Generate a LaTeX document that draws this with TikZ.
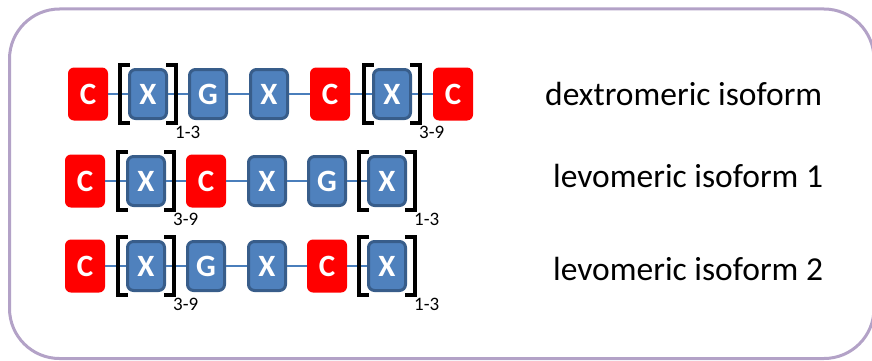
\documentclass[tikz,border=0pt]{standalone}
\usepackage{fontspec}
\setmainfont{Carlito}
\usetikzlibrary{calc}
\definecolor{framelilac}{HTML}{B3A2C7}
\definecolor{unitblue}{HTML}{4F81BD}
\definecolor{unitedge}{HTML}{385D8A}
\definecolor{linkblue}{HTML}{4A7EBB}
\tikzset{
  cunit/.style={fill=red, rounded corners=6pt, minimum width=40pt, minimum height=53pt,
    inner sep=0pt, text=white, font=\fontsize{31}{31}\selectfont\bfseries},
  xunit/.style={fill=unitblue, draw=unitedge, line width=3pt, rounded corners=6pt,
    minimum width=37pt, minimum height=49pt, inner sep=0pt, text=white,
    font=\fontsize{31}{31}\selectfont\bfseries},
  link/.style={linkblue, line width=1.2pt},
  brack/.style={line width=4pt, line join=miter},
  repeats/.style={anchor=base west, inner sep=0pt, font=\fontsize{19}{19}\selectfont},
  isoname/.style={anchor=base west, inner sep=0pt, font=\fontsize{33.5}{33.5}\selectfont}
}
% bracket round a unit, and closing bracket with its repeat count
\newcommand{\openbr}[1]{\draw[brack] ($(#1)+(-18,-29)$) -- ++(-10,0) -- ++(0,58) -- ++(10,0);}
\newcommand{\closebr}[2]{\draw[brack] ($(#1)+(18,-29)$) -- ++(10,0) -- ++(0,58) -- ++(-10,0);
  \node[repeats] at ($(#1)+(27,44)$) {#2};}
\begin{document}
\begin{tikzpicture}[x=1pt,y=-1pt]
\useasboundingbox (0,0) rectangle (872,361);
\draw[framelilac, line width=3pt, rounded corners=50pt] (9.5,9) rectangle (874,358.5);

% dextromeric isoform
\node[cunit] (dC1) at (88,94) {C};
\node[xunit] (dX1) at (148,94) {X};
\node[xunit] (dG)  at (208,94) {G};
\node[xunit] (dX2) at (269,94) {X};
\node[cunit] (dC2) at (330,94) {C};
\node[xunit] (dX3) at (392,94) {X};
\node[cunit] (dC3) at (453,94) {C};
\foreach \a/\b in {dC1/dX1,dX1/dG,dG/dX2,dX2/dC2,dC2/dX3,dX3/dC3}
  \draw[link] (\a) -- (\b);
\openbr{dX1} \closebr{dX1}{1-3}
\openbr{dX3} \closebr{dX3}{3-9}
\node[isoname] (dname) at (545,105) {dextromeric isoform};

% levomeric isoform 1
\node[cunit] (aC1) at (85,181) {C};
\node[xunit] (aX1) at (146,181) {X};
\node[cunit] (aC2) at (206,181) {C};
\node[xunit] (aX2) at (267,181) {X};
\node[xunit] (aG)  at (327,181) {G};
\node[xunit] (aX3) at (387,181) {X};
\foreach \a/\b in {aC1/aX1,aX1/aC2,aC2/aX2,aX2/aG,aG/aX3}
  \draw[link] (\a) -- (\b);
\openbr{aX1} \closebr{aX1}{3-9}
\openbr{aX3} \closebr{aX3}{1-3}
\node[isoname] (aname) at (553,187) {levomeric isoform 1};

% levomeric isoform 2
\node[cunit] (bC1) at (85,266) {C};
\node[xunit] (bX1) at (146,266) {X};
\node[xunit] (bG)  at (206,266) {G};
\node[xunit] (bX2) at (267,266) {X};
\node[cunit] (bC2) at (327,266) {C};
\node[xunit] (bX3) at (387,266) {X};
\foreach \a/\b in {bC1/bX1,bX1/bG,bG/bX2,bX2/bC2,bC2/bX3}
  \draw[link] (\a) -- (\b);
\openbr{bX1} \closebr{bX1}{3-9}
\openbr{bX3} \closebr{bX3}{1-3}
\node[isoname] (bname) at (553,280) {levomeric isoform 2};
\end{tikzpicture}
\end{document}
